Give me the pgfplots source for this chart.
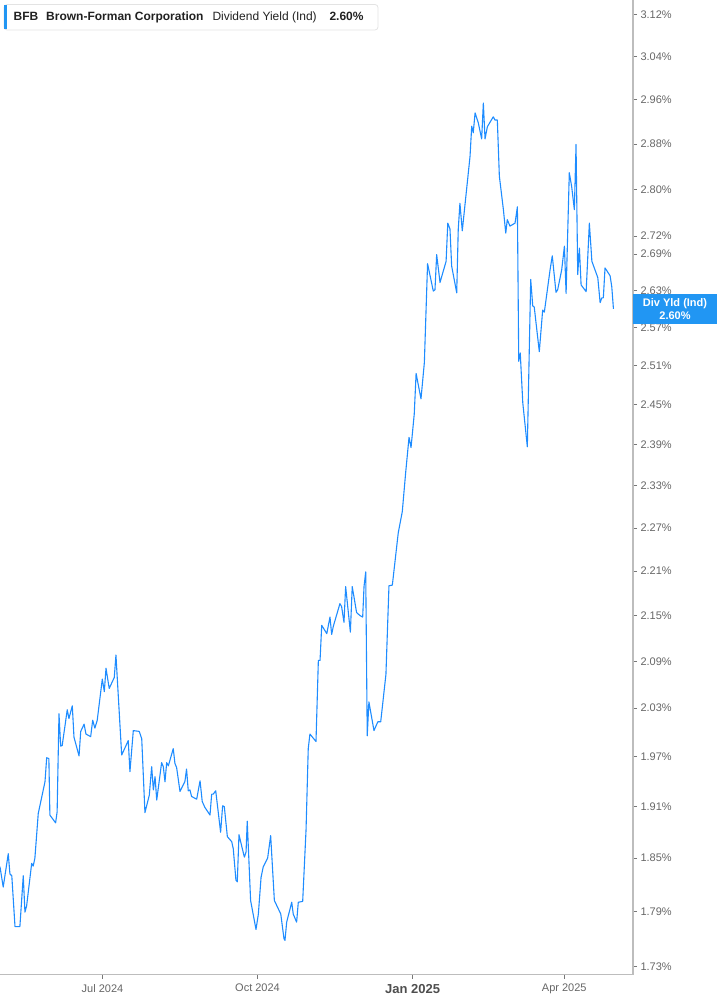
\documentclass[border=0pt]{standalone}
\usepackage{fontspec}
\setmainfont{Liberation Sans}
\usepackage{pgfplots}
\pgfplotsset{compat=1.18}

\definecolor{linecol}{HTML}{1E8CFF}
\definecolor{boxcol}{HTML}{2196F3}
\definecolor{axisgray}{HTML}{BDBDBD}
\definecolor{tickgray}{HTML}{777777}
\definecolor{labelgray}{HTML}{666666}
\definecolor{titlegray}{HTML}{222222}

\begin{document}
\begin{tikzpicture}[x=1pt,y=1pt]
\useasboundingbox (0,-30.3) rectangle (717,974.7);
\begin{axis}[
    at={(0,0)}, anchor=south west,
    scale only axis,
    width=633pt, height=974.7pt,
    ymode=log,
    xmin=-60.8, xmax=314.8,
    ymin=1.721, ymax=3.149,
    axis x line*=bottom,
    axis y line*=right,
    axis line style={draw=axisgray, line width=1.3pt},
    tick align=outside,
    major tick length=4pt,
    tick style={draw=tickgray, line width=0.8pt},
    yminorticks=false,
    xtick={0,92,184,274},
    xticklabels={Jul 2024, Oct 2024, {\fontsize{13}{15}\selectfont\bfseries\color{titlegray!80}Jan 2025}, Apr 2025},
    xticklabel style={font=\fontsize{11}{13}\selectfont, text=labelgray, yshift=-2pt},
    ytick={1.73,1.79,1.85,1.91,1.97,2.03,2.09,2.15,2.21,2.27,2.33,2.39,2.45,2.51,2.57,2.63,2.69,2.72,2.80,2.88,2.96,3.04,3.12},
    yticklabels={1.73\%,1.79\%,1.85\%,1.91\%,1.97\%,2.03\%,2.09\%,2.15\%,2.21\%,2.27\%,2.33\%,2.39\%,2.45\%,2.51\%,2.57\%,2.63\%,2.69\%,2.72\%,2.80\%,2.88\%,2.96\%,3.04\%,3.12\%},
    yticklabel style={font=\fontsize{11}{13}\selectfont, text=labelgray, anchor=west},
    clip=true,
]
% dividend yield, x = days from 1 Jul 2024
\addplot[color=linecol, line width=1.1pt, line join=round] coordinates {
(-60.8,1.840)(-58.9,1.817)(-55.9,1.855)(-54.9,1.832)(-53.8,1.830)(-51.9,1.773)
(-49.0,1.773)(-47.0,1.830)(-46.0,1.789)(-45.0,1.796)(-42.0,1.844)(-41.1,1.841)
(-40.1,1.850)(-38.1,1.902)(-34.1,1.940)(-33.1,1.969)(-31.8,1.968)(-31.2,1.900)
(-27.8,1.891)(-26.9,1.904)(-25.8,2.023)(-24.8,1.983)(-23.9,1.984)(-20.9,2.028)
(-19.9,2.017)(-17.9,2.033)(-16.9,1.994)(-13.9,1.971)(-12.9,2.001)(-10.9,2.010)
(-9.8,1.998)(-7.0,1.995)(-5.8,2.015)(-4.5,2.005)(-3.1,2.015)(-0.1,2.067)
(1.1,2.051)(2.1,2.081)(4.0,2.055)(7.0,2.069)(8.0,2.098)(11.4,1.972)
(15.3,1.990)(16.3,1.952)(18.3,2.002)(21.8,2.001)(23.3,1.992)(25.2,1.903)
(27.8,1.924)(29.2,1.958)(30.2,1.930)(31.2,1.946)(32.2,1.918)(35.1,1.963)
(36.1,1.958)(37.1,1.940)(38.1,1.963)(39.1,1.959)(42.0,1.980)(43.0,1.962)
(44.0,1.957)(46.0,1.928)(48.9,1.940)(49.9,1.955)(50.9,1.929)(51.9,1.930)
(52.9,1.922)(55.9,1.919)(57.9,1.941)(59.2,1.916)(60.8,1.909)(63.8,1.900)
(64.8,1.925)(65.7,1.925)(67.2,1.929)(70.1,1.880)(71.3,1.911)(72.3,1.910)
(74.1,1.875)(76.7,1.869)(77.6,1.861)(79.2,1.825)(80.0,1.823)(81.0,1.877)
(84.2,1.851)(85.2,1.857)(85.9,1.893)(87.9,1.802)(91.1,1.770)(92.5,1.787)
(94.1,1.828)(95.4,1.840)(98.0,1.850)(99.8,1.876)(102.0,1.802)(105.8,1.787)
(107.7,1.760)(108.3,1.758)(109.3,1.778)(112.3,1.800)(113.2,1.787)(115.2,1.778)
(116.2,1.800)(118.8,1.801)(120.8,1.883)(122.1,1.980)(123.1,1.998)(126.7,1.989)
(128.1,2.091)(129.1,2.091)(130.1,2.137)(133.1,2.126)(135.0,2.148)(136.0,2.125)
(137.0,2.136)(140.9,2.166)(141.9,2.162)(143.3,2.141)(144.3,2.189)(147.1,2.128)
(148.2,2.189)(150.8,2.154)(152.8,2.150)(154.4,2.148)(155.2,2.189)(156.2,2.209)
(157.1,1.996)(158.1,2.038)(161.1,2.002)(163.4,2.013)(165.1,2.013)(168.2,2.073)
(170.0,2.190)(172.0,2.191)(175.5,2.263)(177.9,2.293)(179.9,2.349)(181.9,2.401)
(183.1,2.386)(185.0,2.436)(186.1,2.498)(189.0,2.459)(191.0,2.515)(192.9,2.674)
(196.3,2.629)(197.3,2.631)(198.3,2.689)(200.3,2.643)(203.9,2.678)(204.9,2.742)
(206.2,2.732)(207.2,2.670)(210.2,2.626)(211.1,2.731)(212.1,2.776)(213.5,2.729)
(218.1,2.858)(219.1,2.912)(220.0,2.900)(221.1,2.936)(223.0,2.918)(225.0,2.889)
(226.0,2.954)(227.0,2.889)(228.4,2.911)(231.9,2.929)(232.9,2.923)(234.3,2.923)
(235.5,2.823)(237.9,2.765)(239.3,2.725)(240.2,2.748)(241.8,2.737)(244.8,2.742)
(246.2,2.770)(247.0,2.517)(247.9,2.530)(249.4,2.453)(252.1,2.387)(254.1,2.648)
(255.3,2.605)(256.2,2.603)(259.2,2.532)(261.2,2.598)(262.2,2.595)(265.6,2.664)
(266.9,2.687)(269.1,2.627)(270.1,2.631)(272.5,2.664)(274.1,2.703)(275.1,2.625)
(277.0,2.829)(278.4,2.805)(280.0,2.765)(281.0,2.879)(282.0,2.656)(283.0,2.700)
(284.0,2.639)(287.0,2.628)(288.9,2.742)(290.4,2.678)(293.9,2.651)(295.3,2.610)
(296.3,2.618)(297.2,2.618)(298.2,2.667)(301.2,2.654)(302.2,2.636)(303.2,2.600)
};
\end{axis}
% header box
\draw[draw=gray!22, line width=0.8pt, rounded corners=3pt, fill=white] (4,970.2) rectangle (378,944.7);
\fill[boxcol] (4,945.2) rectangle (7,969.7);
\node[anchor=base west, inner sep=0, text=titlegray, font=\fontsize{12}{14}\selectfont\bfseries] at (13.5,954) {BFB};
\node[anchor=base west, inner sep=0, text=titlegray, font=\fontsize{12}{14}\selectfont\bfseries] at (46,954) {Brown-Forman Corporation};
\node[anchor=base west, inner sep=0, text=titlegray, font=\fontsize{12}{14}\selectfont] at (212.3,954) {Dividend Yield (Ind)};
\node[anchor=base west, inner sep=0, text=titlegray, font=\fontsize{12}{14}\selectfont\bfseries] at (329.3,954) {2.60\%};
% last value box
\fill[boxcol] (633,680.7) rectangle (717,650.7);
\node[align=center, text=white, font=\fontsize{11}{12.5}\selectfont\bfseries, inner sep=0] at (675,665.7) {Div Yld (Ind)\\2.60\%};
\end{tikzpicture}
\end{document}
